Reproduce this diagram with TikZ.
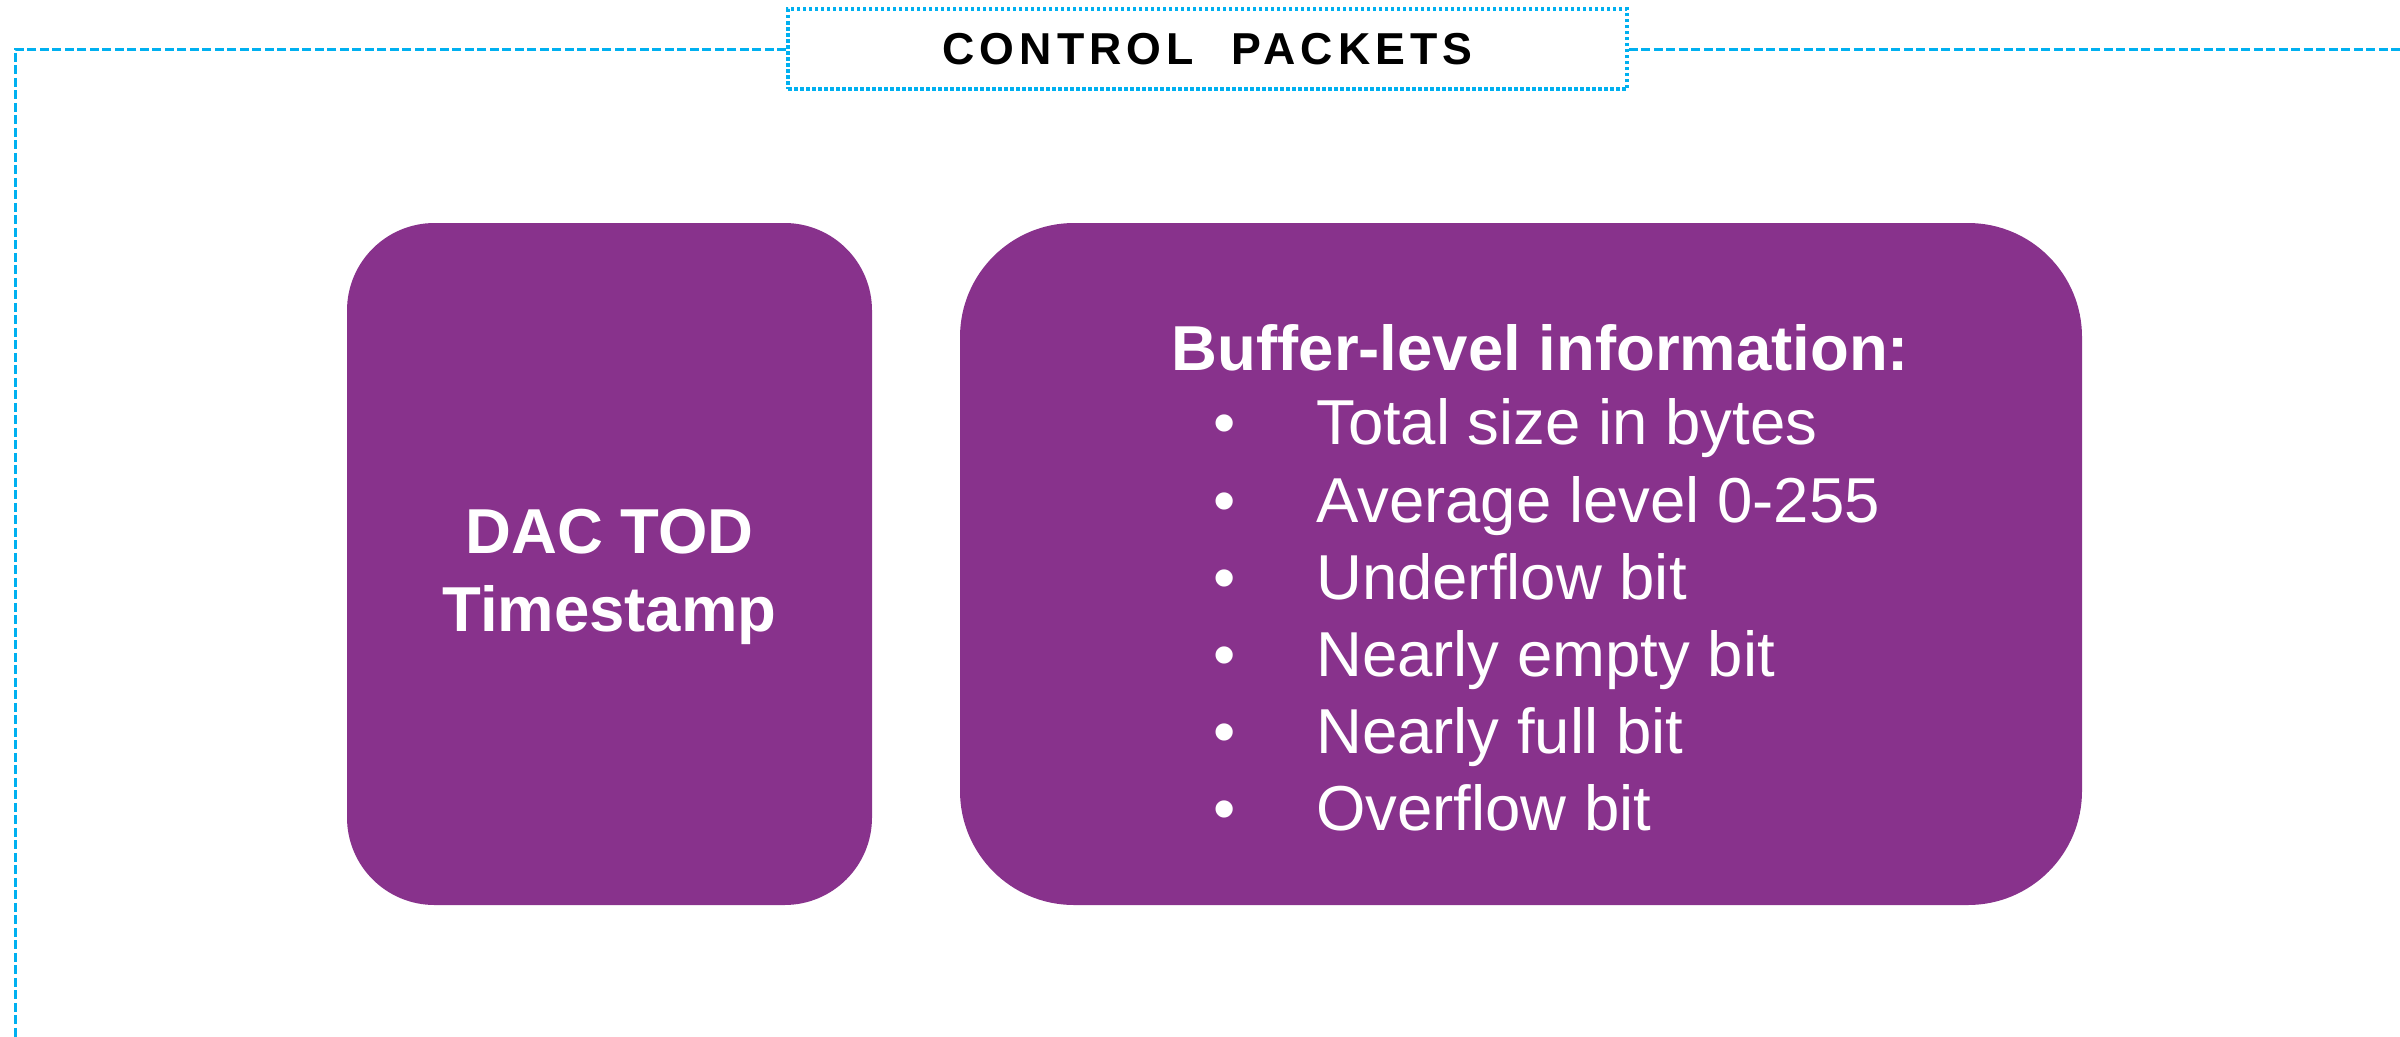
\documentclass[tikz,border=0pt]{standalone}
\usepackage{fontspec}
\setmainfont{Liberation Sans}
\newfontfamily\titlefont{Liberation Sans}[LetterSpace=11.5]
\definecolor{boxpurple}{RGB}{136,50,140}
\definecolor{lineblue}{RGB}{0,176,240}
\begin{document}
\begin{tikzpicture}[x=1pt,y=-1pt,
  frame/.style={draw=lineblue, line width=3pt, dash pattern=on 9pt off 3.5pt},
  titlebox/.style={draw=lineblue, line width=3.5pt, dash pattern=on 3.5pt off 2.5pt,
    fill=white, minimum width=839pt, minimum height=80pt, inner sep=0pt,
    font=\titlefont\bfseries\fontsize{44.7}{50}\selectfont},
  pbox/.style={fill=boxpurple, draw=none, inner sep=0pt, minimum height=682pt},
  boxtext/.style={text=white, inner sep=0pt, font=\fontsize{63.5}{77}\selectfont},
  boldtext/.style={boxtext, font=\fontsize{63.5}{77}\selectfont\bfseries},
  bullet/.style={boxtext, anchor=base},
  item/.style={boxtext, anchor=base west}
]
\useasboundingbox (0,0) rectangle (2400,1036);

% title box and frame
\node[titlebox] (title) at (1207.5,49) {CONTROL\hspace{20pt} PACKETS};
\coordinate (fl) at (15,50);
\coordinate (fb) at (15,1045);
\coordinate (fr) at (2405,50);
\draw[frame] (title.west) -- (title.west -| fl) -- (fb);
\draw[frame] (title.east) -- (title.east -| fr);

% left box
\node[pbox, rounded corners=87.5pt, minimum width=525pt] (lbox) at (609.5,564) {};
\node[boldtext, anchor=base] (l1) at (609.5,553) {DAC TOD};
\node[boldtext, anchor=base] (l2) at (609.5,631) {Timestamp};

% right box
\node[pbox, rounded corners=114pt, minimum width=1122pt] (rbox) at (1521,564) {};
\node[boldtext, anchor=base] (rh) at (1540.5,370) {Buffer-level information:};

\node[bullet] (b1) at (1225,444) {•};
\node[bullet] (b2) at (1225,522) {•};
\node[bullet] (b3) at (1225,599) {•};
\node[bullet] (b4) at (1225,676) {•};
\node[bullet] (b5) at (1225,753) {•};
\node[bullet] (b6) at (1225,830) {•};

\node[item] (i1) at (1316,444) {Total size in bytes};
\node[item] (i2) at (1316,522) {Average level 0-255};
\node[item] (i3) at (1316,599) {Underflow bit};
\node[item] (i4) at (1316,676) {Nearly empty bit};
\node[item] (i5) at (1316,753) {Nearly full bit};
\node[item] (i6) at (1316,830) {Overflow bit};
\end{tikzpicture}
\end{document}
